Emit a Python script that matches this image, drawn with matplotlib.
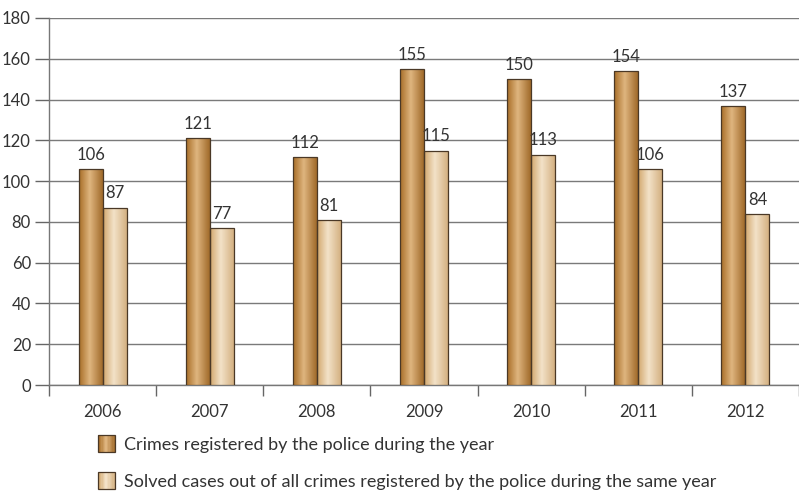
import matplotlib
matplotlib.use("Agg")
import matplotlib.pyplot as plt
import numpy as np
from matplotlib.colors import LinearSegmentedColormap
from matplotlib.patches import Rectangle, Patch
from matplotlib.legend_handler import HandlerBase

years = ["2006", "2007", "2008", "2009", "2010", "2011", "2012"]
registered = [106, 121, 112, 155, 150, 154, 137]
solved = [87, 77, 81, 115, 113, 106, 84]
labels = ["Crimes registered by the police during the year",
          "Solved cases out of all crimes registered by the police during the same year"]

plt.rcParams['font.family'] = ['Lato', 'DejaVu Sans']
txt = '#333333'

fig = plt.figure(figsize=(7.99, 4.92), dpi=100)
ax = fig.add_axes([49/799, 1-385/492, 750/799, (385-18)/492])

dark_cmap = LinearSegmentedColormap.from_list('d', [(0, '#a86e28'), (0.45, '#dfb57f'), (1, '#a06a2a')])
light_cmap = LinearSegmentedColormap.from_list('l', [(0, '#d2a86e'), (0.45, '#f3e2c8'), (1, '#d4b182')])

w = 0.224
x = np.arange(len(years))
grad = np.linspace(0, 1, 64).reshape(1, -1)

def gbar(xs, vals, cmap, off):
    bars = ax.bar(xs + off, vals, width=w, color='none', edgecolor='#4a3826', linewidth=0.9, zorder=4)
    for b in bars:
        x0, y0 = b.get_x(), b.get_y()
        bw, bh = b.get_width(), b.get_height()
        im = ax.imshow(grad, extent=[x0, x0 + bw, y0, y0 + bh], cmap=cmap, aspect='auto', zorder=3, interpolation='bilinear')
        im.set_clip_path(Rectangle((x0, y0), bw, bh, transform=ax.transData))
    return bars

gbar(x, registered, dark_cmap, -w/2)
gbar(x, solved, light_cmap, w/2)

fs = 12
for xi, v in zip(x, registered):
    ax.text(xi - w/2, v + 3, str(v), ha='center', va='bottom', fontsize=fs, color=txt)
for xi, v in zip(x, solved):
    ax.text(xi + w/2, v + 3, str(v), ha='center', va='bottom', fontsize=fs, color=txt)

ax.set_xlim(-0.5, len(years) - 0.5)
ax.set_ylim(0, 180)
ax.set_yticks(range(0, 181, 20))
ax.tick_params(axis='y', labelsize=fs, labelcolor=txt, length=10, color='#666666', width=1, pad=3)
ax.set_xticks(x)
ax.set_xticklabels(years)
ax.set_xticks(np.arange(-0.5, len(years)), minor=True)
ax.tick_params(axis='x', which='major', length=0, labelsize=fs, labelcolor=txt, pad=14)
ax.tick_params(axis='x', which='minor', length=8, color='#666666', width=1)
ax.grid(axis='y', color='#7a7a7a', linewidth=1, zorder=0)
ax.set_axisbelow(True)
for s in ['top', 'right']:
    ax.spines[s].set_visible(False)
for s in ['left', 'bottom']:
    ax.spines[s].set_color('#777777')
    ax.spines[s].set_linewidth(1)

class GradHandler(HandlerBase):
    def __init__(self, cmap):
        super().__init__()
        self.cmap = cmap
    def create_artists(self, legend, orig, xd, yd, width, height, fontsize, trans):
        arts = []
        n = 12
        side = 12
        x0 = xd + (width - side)
        y0 = yd + (height - side) / 2
        for i in range(n):
            arts.append(Rectangle((x0 + side * i / n, y0), side / n + 0.3, side,
                                  facecolor=self.cmap((i + 0.5) / n), edgecolor='none', transform=trans))
        arts.append(Rectangle((x0, y0), side, side, facecolor='none', edgecolor='#4a3826', linewidth=0.9, transform=trans))
        return arts

h1 = Patch(label=labels[0])
h2 = Patch(label=labels[1])
fig.legend([h1, h2], labels, loc='upper left', bbox_to_anchor=(88/799, 1-428/492),
           frameon=False, fontsize=13, labelcolor=txt, handlelength=1.0, handletextpad=0.5,
           labelspacing=1.15, borderpad=0,
           handler_map={h1: GradHandler(dark_cmap), h2: GradHandler(light_cmap)})

fig.savefig('out.png', dpi=100)
